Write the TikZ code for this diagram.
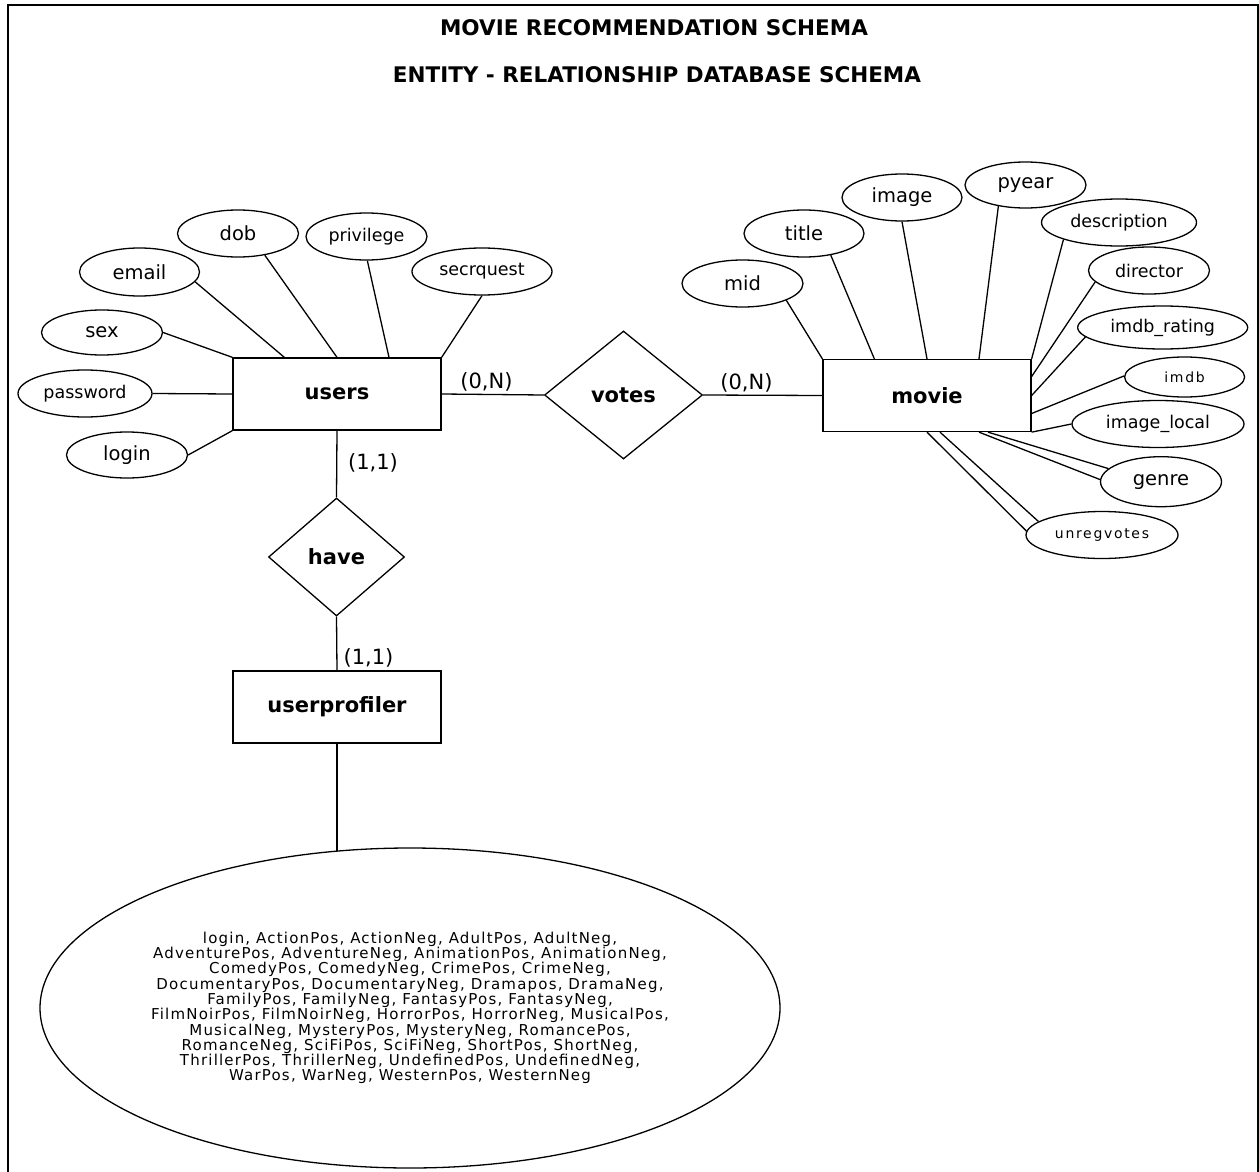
\documentclass[tikz,border=0pt]{standalone}
\usepackage{fontspec}
\setmainfont{DejaVu Sans}
\newfontfamily\spacedfont[LetterSpace=8]{DejaVu Sans}
\newfontfamily\spacedfontb[LetterSpace=12]{DejaVu Sans}
\usetikzlibrary{shapes.geometric}
\tikzset{
  entity/.style={draw, rectangle, line width=1.3pt, minimum width=208pt, minimum height=72pt, inner sep=0pt, font=\bfseries\fontsize{21}{25}\selectfont},
  rel/.style={draw, diamond, line width=1.3pt, inner sep=0pt, font=\bfseries\fontsize{21}{25}\selectfont},
  attr/.style={draw, ellipse, line width=1.3pt, inner sep=0pt},
  big/.style={font=\fontsize{19.5}{23}\selectfont},
  med/.style={font=\fontsize{17.5}{21}\selectfont},
  small/.style={font=\spacedfontb\fontsize{14}{17}\selectfont},
  card/.style={font=\fontsize{21}{25}\selectfont, inner sep=0pt},
  conn/.style={line width=1.3pt},
  titletext/.style={font=\bfseries\fontsize{21.5}{25}\selectfont, inner sep=0pt},
  frame/.style={line width=2.5pt}
}
\begin{document}
\begin{tikzpicture}[x=1pt,y=-1pt]
\useasboundingbox (0,0) rectangle (1259,1172);
\draw[frame] (8,1175) -- (8,5) -- (1258,5) -- (1258,1175);

\node[titletext] (t1) at (654,27.5) {MOVIE RECOMMENDATION SCHEMA};
\node[titletext] (t2) at (657,74.5) {ENTITY - RELATIONSHIP DATABASE SCHEMA};

% entities and relationships
\node[entity] (users) at (337,394) {users};
\node[entity] (movie) at (927,395.5) {movie};
\node[entity] (userprofiler) at (337,707) {userprofiler};
\node[rel, minimum width=158pt, minimum height=128pt] (votes) at (623.5,395) {votes};
\node[rel, minimum width=136pt, minimum height=118pt] (have) at (336.5,557) {have};

% user attributes
\node[attr, big, minimum width=120pt, minimum height=48pt] (email) at (139.5,272) {email};
\node[attr, big, minimum width=121pt, minimum height=47pt] (dob) at (238,233.5) {dob};
\node[attr, med, minimum width=121pt, minimum height=47pt] (privilege) at (366.5,236.5) {privilege};
\node[attr, med, minimum width=140pt, minimum height=47pt] (secrquest) at (482,271.5) {secrquest};
\node[attr, big, minimum width=121pt, minimum height=45pt] (sex) at (102,332.5) {sex};
\node[attr, med, minimum width=134pt, minimum height=47pt] (password) at (85,393.5) {password};
\node[attr, big, minimum width=121pt, minimum height=46pt] (login) at (127,455) {login};

% movie attributes
\node[attr, big, minimum width=121pt, minimum height=47pt] (mid) at (742.5,283.5) {mid};
\node[attr, big, minimum width=120pt, minimum height=47pt] (title) at (804,233.5) {title};
\node[attr, big, minimum width=120pt, minimum height=47pt] (image) at (902,197.5) {image};
\node[attr, big, minimum width=121pt, minimum height=46pt] (pyear) at (1025.5,185) {pyear};
\node[attr, med, minimum width=155pt, minimum height=47pt] (description) at (1119,222.5) {description};
\node[attr, med, minimum width=121pt, minimum height=47pt] (director) at (1149,270.5) {director};
\node[attr, med, minimum width=170pt, minimum height=43pt] (imdbrating) at (1162.7,327.5) {imdb\_rating};
\node[attr, small, minimum width=120pt, minimum height=40pt] (imdb) at (1184.6,377) {imdb};
\node[attr, med, minimum width=172pt, minimum height=47pt] (imagelocal) at (1158,424) {image\_local};
\node[attr, big, minimum width=121pt, minimum height=50pt] (genre) at (1161,481.7) {genre};
\node[attr, small, minimum width=152pt, minimum height=47pt] (unregvotes) at (1102,535) {unregvotes};

% profile attribute
\node[attr, align=center, minimum width=740pt, minimum height=320pt, font=\spacedfont\fontsize{15}{15.3}\selectfont] (profile) at (410,1008) {login, ActionPos, ActionNeg, AdultPos, AdultNeg,\\
AdventurePos, AdventureNeg, AnimationPos, AnimationNeg,\\
ComedyPos, ComedyNeg, CrimePos, CrimeNeg,\\
DocumentaryPos, DocumentaryNeg, Dramapos, DramaNeg,\\
FamilyPos, FamilyNeg, FantasyPos, FantasyNeg,\\
FilmNoirPos, FilmNoirNeg, HorrorPos, HorrorNeg, MusicalPos,\\
MusicalNeg, MysteryPos, MysteryNeg, RomancePos,\\
RomanceNeg, SciFiPos, SciFiNeg, ShortPos, ShortNeg,\\
ThrillerPos, ThrillerNeg, UndefinedPos, UndefinedNeg,\\
WarPos, WarNeg, WesternPos, WesternNeg};

% cardinalities
\node[card] (c1) at (486.5,382) {(0,N)};
\node[card] (c2) at (746.5,382.5) {(0,N)};
\node[card] (c3) at (373,463) {(1,1)};
\node[card] (c4) at (368.5,658) {(1,1)};

% relationship connectors
\draw[conn] (users.east) -- (votes.west);
\draw[conn] (votes.east) -- (movie.west);
\draw[conn] (users.south) -- (have.north);
\draw[conn] (have.south) -- (userprofiler.north);
\draw[conn] (userprofiler.south) -- (userprofiler.south |- profile.115);

% user attribute connectors
\draw[conn] (email.350) -- ([xshift=52pt]users.north west);
\draw[conn] (dob.321) -- (users.north);
\draw[conn] (privilege.272) -- ([xshift=52pt]users.north);
\draw[conn] (secrquest.270) -- (users.north east);
\draw[conn] (sex.east) -- (users.north west);
\draw[conn] (password.east) -- (users.west);
\draw[conn] (login.east) -- (users.south west);

% movie attribute connectors
\draw[conn] (mid.339) -- (movie.north west);
\draw[conn] (title.321) -- ([xshift=52pt]movie.north west);
\draw[conn] (image.270) -- (movie.north);
\draw[conn] (pyear.218) -- ([xshift=52pt]movie.north);
\draw[conn] (description.197) -- (movie.north east);
\draw[conn] (director.192) -- ([yshift=19pt]movie.east);
\draw[conn] (imdbrating.187) -- (movie.east);
\draw[conn] (imdb.179) -- ([yshift=-18pt]movie.east);
\draw[conn] (imagelocal.180) -- (movie.south east);
\draw[conn] ([xshift=52pt]movie.south) -- (genre.178);
\draw[conn] ([xshift=61pt]movie.south) -- (genre.166);
\draw[conn] (movie.south) -- (unregvotes.177);
\draw[conn] ([xshift=13pt]movie.south) -- (unregvotes.168);
\end{tikzpicture}
\end{document}
